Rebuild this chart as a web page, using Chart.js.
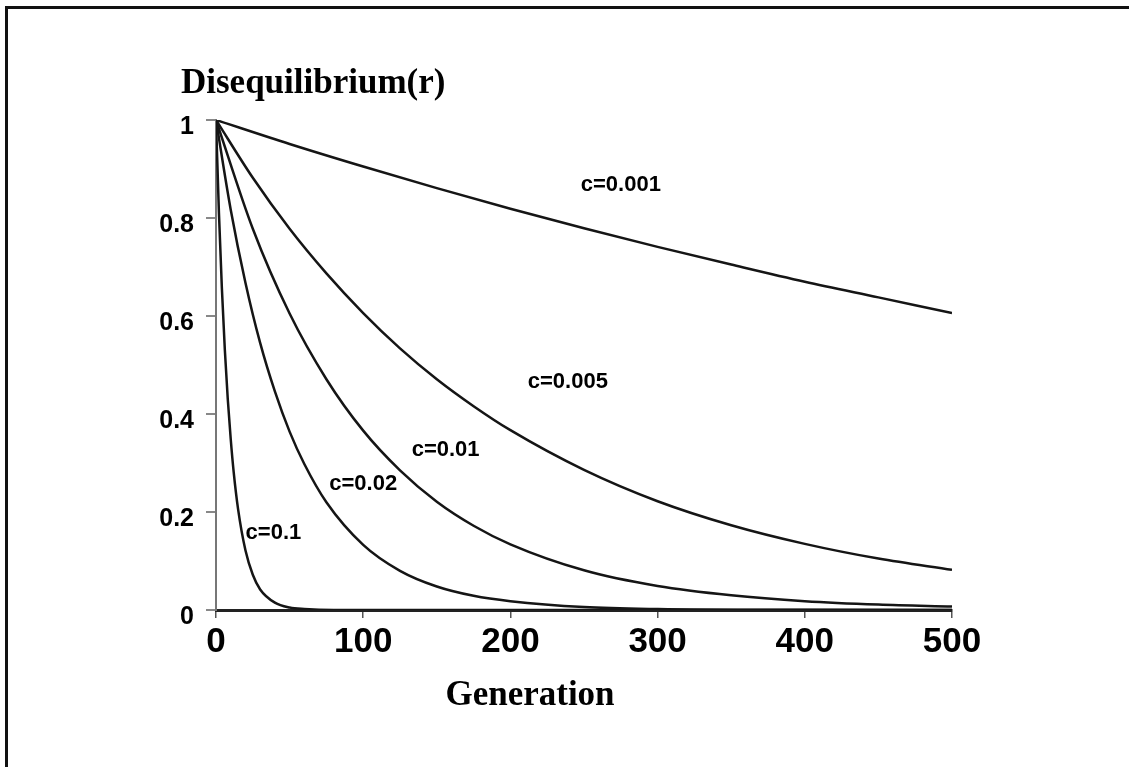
<!DOCTYPE html>
<html>
<head>
<meta charset="utf-8">
<script src="https://cdn.jsdelivr.net/npm/chart.js@4"></script>
<style>
    html, body { margin: 0; padding: 0; background: #fff; }
    #wrap { position: relative; width: 1129px; height: 767px; overflow: hidden; }
    #frame { position: absolute; left: 5px; top: 6px; width: 1200px; height: 800px;
             border-top: 3px solid #111; border-left: 3px solid #111; }
    #chart-canvas { position: absolute; left: 0; top: 0; }
</style>
</head>
<body>
<div id="wrap">
    <div id="frame"></div>
    <canvas id="chart-canvas" width="1129" height="767"></canvas>
</div>
<script>
// values (generation, disequilibrium r)
var xTicks = [0, 100, 200, 300, 400, 500];
var yTicks = [0, 0.2, 0.4, 0.6, 0.8, 1];

var gen001 = [0, 50, 100, 150, 200, 250, 300, 350, 400, 450, 500];
var r001 = [1, 0.951, 0.905, 0.861, 0.819, 0.779, 0.741, 0.705, 0.670, 0.638, 0.606];

var gen005 = [0, 25, 50, 75, 100, 125, 150, 175, 200, 250, 300, 350, 400, 450, 500];
var r005 = [1, 0.882, 0.778, 0.687, 0.606, 0.534, 0.471, 0.416, 0.367, 0.286, 0.222, 0.173, 0.135, 0.105, 0.082];

var gen01 = [0, 25, 50, 75, 100, 125, 150, 175, 200, 250, 300, 350, 400, 450, 500];
var r01 = [1, 0.778, 0.605, 0.471, 0.366, 0.285, 0.221, 0.172, 0.134, 0.081, 0.049, 0.030, 0.018, 0.011, 0.007];

var gen02 = [0, 10, 20, 30, 40, 50, 60, 75, 100, 125, 150, 175, 200, 250, 300, 400, 500];
var r02 = [1, 0.817, 0.668, 0.545, 0.446, 0.364, 0.298, 0.220, 0.133, 0.080, 0.048, 0.029, 0.018, 0.006, 0.002, 0.0003, 0];

var gen1 = [0, 2, 4, 6, 8, 10, 12, 15, 20, 25, 30, 40, 50, 60, 80, 500];
var r1 = [1, 0.81, 0.656, 0.531, 0.43, 0.349, 0.282, 0.206, 0.122, 0.072, 0.042, 0.015, 0.005, 0.002, 0, 0];

// curve labels: text and where they sit (generation, r)
var curveLabels = ['c=0.001', 'c=0.005', 'c=0.01', 'c=0.02', 'c=0.1'];
var labelGen = [275, 239, 156, 100, 39];
var labelR = [0.867, 0.465, 0.327, 0.257, 0.157];

function toPoints(xs, ys) {
    return xs.map(function (x, i) { return { x: x, y: ys[i] }; });
}

function curve(xs, ys) {
    return {
        data: toPoints(xs, ys),
        borderColor: '#151515',
        borderWidth: 2.5,
        pointRadius: 0,
        fill: false,
        cubicInterpolationMode: 'monotone'
    };
}

var textPlugin = {
    id: 'texts',
    afterDatasetsDraw: function (chart) {
        var ctx = chart.ctx;
        var xs = chart.scales.x, ys = chart.scales.y;
        ctx.save();
        ctx.fillStyle = '#000';
        ctx.font = 'bold 22px "Liberation Sans", Arial, sans-serif';
        ctx.textAlign = 'center';
        ctx.textBaseline = 'middle';
        curveLabels.forEach(function (t, i) {
            ctx.fillText(t, xs.getPixelForValue(labelGen[i]), ys.getPixelForValue(labelR[i]));
        });
        ctx.font = 'bold 35px "Liberation Serif", "Times New Roman", serif';
        ctx.textAlign = 'left';
        ctx.fillText('Disequilibrium(r)', 181, 84);
        ctx.textAlign = 'center';
        ctx.fillText('Generation', 530, 696);
        ctx.restore();
    }
};

var chartConfig = {
    type: 'line',
    data: {
        datasets: [
            curve(gen001, r001),
            curve(gen005, r005),
            curve(gen01, r01),
            curve(gen02, r02),
            curve(gen1, r1)
        ]
    },
    options: {
        responsive: false,
        animation: false,
        layout: { padding: { top: 120, right: 177, left: 0, bottom: 0 } },
        plugins: {
            legend: { display: false },
            tooltip: { enabled: false }
        },
        scales: {
            x: {
                type: 'linear',
                min: 0,
                max: 500,
                afterBuildTicks: function (s) { s.ticks = xTicks.map(function (v) { return { value: v }; }); },
                afterFit: function (s) { s.height = 157; },
                border: { color: '#222', width: 3 },
                grid: { drawOnChartArea: false, color: '#555', tickLength: 8, lineWidth: 1.5 },
                ticks: {
                    color: '#000',
                    padding: 3,
                    maxRotation: 0,
                    font: { family: '"Liberation Sans", Arial, sans-serif', size: 35, weight: 'bold' }
                }
            },
            y: {
                min: 0,
                max: 1,
                afterBuildTicks: function (s) { s.ticks = yTicks.map(function (v) { return { value: v }; }); },
                afterFit: function (s) { s.width = 216; },
                border: { color: '#777', width: 2 },
                grid: { drawOnChartArea: false, color: '#888', tickLength: 10, lineWidth: 2 },
                ticks: {
                    color: '#000',
                    padding: 12,
                    labelOffset: 7,
                    callback: function (v) { return String(v); },
                    font: { family: '"Liberation Sans", Arial, sans-serif', size: 25, weight: 'bold' }
                }
            }
        }
    },
    plugins: [textPlugin]
};

var ctx = document.getElementById('chart-canvas').getContext('2d');
window.myChart = new Chart(ctx, chartConfig);
</script>
</body>
</html>
